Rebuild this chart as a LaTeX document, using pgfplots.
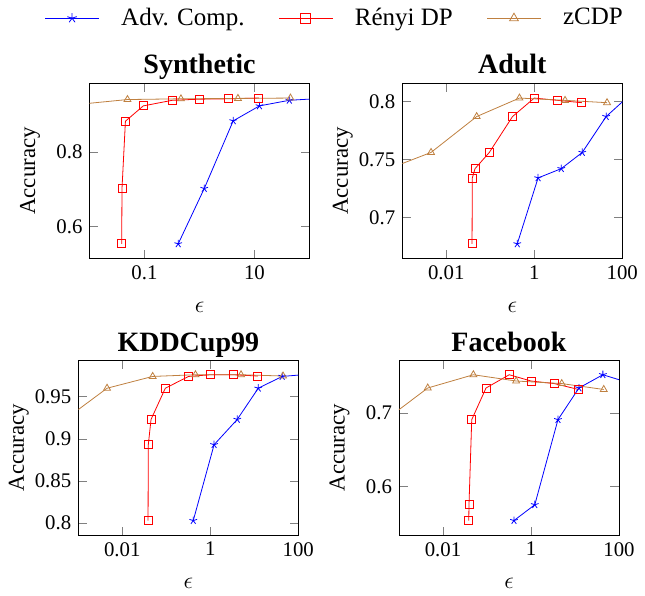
\documentclass[border=0pt]{standalone}
\usepackage{fontspec}
\setmainfont{Liberation Serif}
\usepackage{pgfplots}
\pgfplotsset{compat=1.18}

\pgfplotsset{
  every axis/.append style={
    scale only axis,
    width=110pt, height=87.5pt,
    xminorticks=false,
    xlabel style={at={(0.5,-0.278)}, anchor=center, font=\fontsize{12}{14}\selectfont},
    ylabel style={at={(-0.27,0.5)}, anchor=center, font=\fontsize{11.4}{14}\selectfont},
    title style={at={(0.5,1)}, anchor=base, yshift=-1.2pt, font=\fontsize{14}{16}\selectfont\bfseries},
    tick label style={font=\fontsize{10.4}{12}\selectfont},
    /pgf/number format/assume math mode=true,
  },
  legend image code/.code={\draw[mark repeat=2,mark phase=2,#1,mark size=2.5pt] plot coordinates {(0cm,0cm) (0.47cm,0cm) (0.94cm,0cm)};},
}

\begin{document}
\begin{tikzpicture}
\path (0,0) rectangle (322.5pt,-294.5pt);

% Synthetic
\begin{axis}[at={(44.75pt,-129.15pt)}, anchor=south west,
  xmode=log, log ticks with fixed point,
  xlabel={$\epsilon$}, ylabel={Accuracy},
  title={Synthetic},
  xmin=0.01, xmax=100, xtick={0.1,10},
  ymin=0.515, ymax=0.983, ytick={0.6,0.8},
  legend columns=3,
  legend style={draw=none, fill=none, at={(1.12,1.373)}, anchor=center,
    font=\fontsize{12.5}{15}\selectfont,
    /tikz/every odd column/.append style={column sep=9pt},
    /tikz/every even column/.append style={column sep=15pt}},
]
\addplot[blue, mark=star, mark options={draw=blue}] coordinates {(0.41,0.554) (1.22,0.702) (4.1,0.883) (12.3,0.923) (43,0.938) (125,0.942)};
\addplot[red, mark=square, mark options={draw=red}] coordinates {(0.0385,0.554) (0.039,0.702) (0.045,0.882) (0.095,0.923) (0.32,0.938) (1.0,0.941) (3.4,0.942) (12,0.944)};
\addplot[brown, mark=triangle, mark options={draw=brown}] coordinates {(0.0005,0.882) (0.0045,0.925) (0.049,0.940) (0.46,0.942) (5,0.943) (45,0.944)};
\legend{Adv. Comp., Rényi DP, zCDP}
\end{axis}

% Adult
\begin{axis}[at={(201.15pt,-129.15pt)}, anchor=south west,
  xmode=log, log ticks with fixed point,
  xlabel={$\epsilon$}, ylabel={Accuracy},
  title={Adult},
  xmin=0.001, xmax=100, xtick={0.01,1,100},
  ymin=0.6644, ymax=0.8156, ytick={0.7,0.75,0.8},
]
\addplot[blue, mark=star, mark options={draw=blue}] coordinates {(0.41,0.677) (1.22,0.734) (4.1,0.742) (12.3,0.756) (43,0.787) (125,0.803)};
\addplot[red, mark=square, mark options={draw=red}] coordinates {(0.0385,0.677) (0.039,0.734) (0.045,0.742) (0.095,0.756) (0.32,0.787) (1.0,0.803) (3.4,0.801) (12,0.799)};
\addplot[brown, mark=triangle, mark options={draw=brown}] coordinates {(0.0005,0.742) (0.0045,0.756) (0.049,0.787) (0.46,0.803) (5,0.801) (45,0.799)};
\end{axis}

% KDDCup99
\begin{axis}[at={(39.15pt,-267.5pt)}, anchor=south west,
  xmode=log, log ticks with fixed point,
  xlabel={$\epsilon$}, ylabel={Accuracy},
  title={KDDCup99},
  title style={yshift=-0.3pt},
  xmin=0.001, xmax=100, xtick={0.01,1,100},
  ymin=0.7857, ymax=0.9933, ytick={0.8,0.85,0.9,0.95},
]
\addplot[blue, mark=star, mark options={draw=blue}] coordinates {(0.41,0.803) (1.22,0.893) (4.1,0.923) (12.3,0.960) (43,0.974) (125,0.976)};
\addplot[red, mark=square, mark options={draw=red}] coordinates {(0.0385,0.803) (0.039,0.893) (0.045,0.923) (0.095,0.960) (0.32,0.974) (1.0,0.976) (3.4,0.976) (12,0.9745)};
\addplot[brown, mark=triangle, mark options={draw=brown}] coordinates {(0.0005,0.923) (0.0045,0.960) (0.049,0.974) (0.46,0.976) (5,0.976) (45,0.9745)};
\end{axis}

% Facebook
\begin{axis}[at={(199.5pt,-267.5pt)}, anchor=south west,
  xmode=log, log ticks with fixed point,
  xlabel={$\epsilon$}, ylabel={Accuracy},
  title={Facebook},
  title style={yshift=-0.3pt},
  xmin=0.001, xmax=100, xtick={0.01,1,100},
  ymin=0.5342, ymax=0.7718, ytick={0.6,0.7},
]
\addplot[blue, mark=star, mark options={draw=blue}] coordinates {(0.41,0.554) (1.22,0.5755) (4.1,0.691) (12.3,0.734) (43,0.752) (125,0.7435)};
\addplot[red, mark=square, mark options={draw=red}] coordinates {(0.0385,0.554) (0.039,0.5755) (0.045,0.691) (0.095,0.734) (0.32,0.752) (1.0,0.7435) (3.4,0.740) (12,0.732)};
\addplot[brown, mark=triangle, mark options={draw=brown}] coordinates {(0.0005,0.691) (0.0045,0.734) (0.049,0.752) (0.46,0.7435) (5,0.740) (45,0.732)};
\end{axis}
\end{tikzpicture}
\end{document}
